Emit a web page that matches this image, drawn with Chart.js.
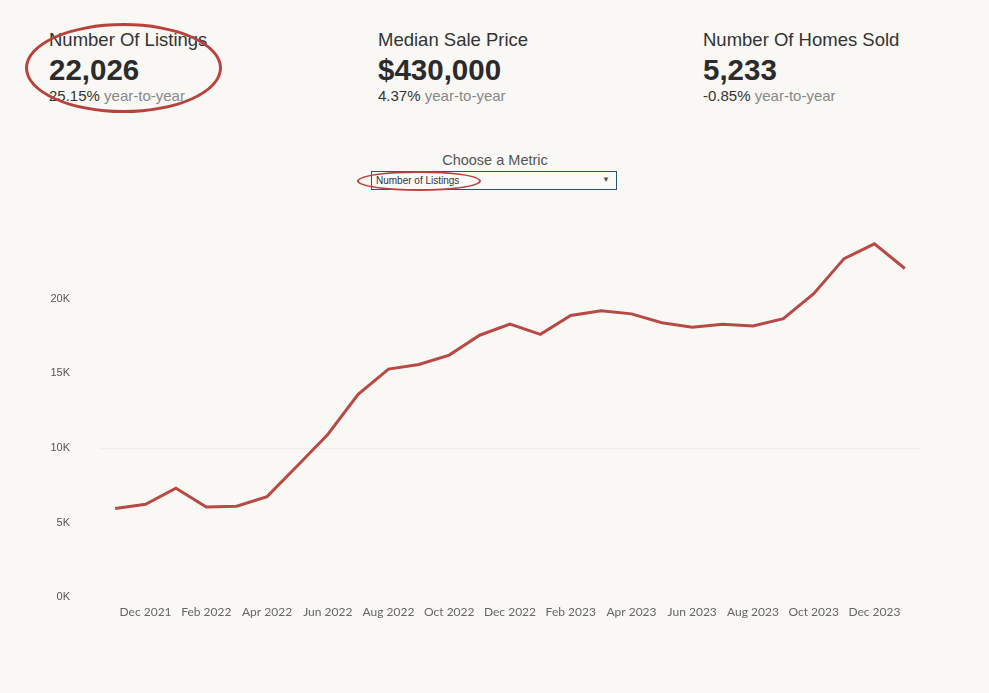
<!DOCTYPE html>
<html>
<head>
<meta charset="utf-8">
<script src="https://cdn.jsdelivr.net/npm/chart.js@4"></script>
<style>
    body { margin: 0; background: #f9f8f5; font-family: "Liberation Sans", Arial, sans-serif; }
    #page { position: relative; width: 989px; height: 693px; overflow: hidden; }
    .kpi { position: absolute; top: 29px; color: #333; }
    .kpi .title { font-size: 18.5px; line-height: 22px; }
    .kpi .value { font-size: 29.5px; font-weight: bold; line-height: 32px; margin-top: 3px; color: #2b2b2b; }
    .kpi .yoy { font-size: 15px; line-height: 18px; margin-top: 1px; }
    .kpi .yoy span { color: #888; }
    #metricLabel { position: absolute; left: 371px; width: 248px; top: 152px; text-align: center; font-size: 14.5px; color: #555; }
    #dropdown { position: absolute; left: 371px; top: 171px; width: 244px; height: 17px; border: 1.5px solid #2a5478; background: #fbfaf8; font-size: 10px; color: #333; }
    #dropdown .txt { position: absolute; left: 4px; top: 3px; }
    #dropdown .arrow { position: absolute; right: 6px; top: 3px; font-size: 8px; color: #555; }
    .ring { position: absolute; border: 3px solid #b8433d; border-radius: 50%; box-sizing: border-box; }
    #chartBox { position: absolute; left: 0; top: 195px; width: 920px; height: 439px; }
</style>
</head>
<body>
<div id="page">
    <div class="kpi" style="left:49px">
        <div class="title">Number Of Listings</div>
        <div class="value">22,026</div>
        <div class="yoy">25.15% <span>year-to-year</span></div>
    </div>
    <div class="kpi" style="left:378px">
        <div class="title">Median Sale Price</div>
        <div class="value">$430,000</div>
        <div class="yoy">4.37% <span>year-to-year</span></div>
    </div>
    <div class="kpi" style="left:703px">
        <div class="title">Number Of Homes Sold</div>
        <div class="value">5,233</div>
        <div class="yoy">-0.85% <span>year-to-year</span></div>
    </div>

    <div id="metricLabel">Choose a Metric</div>
    <div id="dropdown"><span class="txt">Number of Listings</span><span class="arrow">▼</span></div>

    <!-- 手書き風の丸印 -->
    <div class="ring" style="left:25px; top:23px; width:197px; height:90px;"></div>
    <div class="ring" style="left:357px; top:171px; width:124px; height:20px; border-width:2.5px;"></div>

    <div id="chartBox"><canvas id="listingsChart"></canvas></div>
</div>

<script>
// 月ごとのラベル（Nov 2021 〜 Jan 2024）
const months = [
    "Nov 2021", "Dec 2021", "Jan 2022", "Feb 2022", "Mar 2022", "Apr 2022", "May 2022",
    "Jun 2022", "Jul 2022", "Aug 2022", "Sep 2022", "Oct 2022", "Nov 2022", "Dec 2022",
    "Jan 2023", "Feb 2023", "Mar 2023", "Apr 2023", "May 2023", "Jun 2023", "Jul 2023",
    "Aug 2023", "Sep 2023", "Oct 2023", "Nov 2023", "Dec 2023", "Jan 2024"
];

// 掲載件数
const listings = [
    5950, 6240, 7320, 6060, 6110, 6750, 8820,
    10910, 13600, 15290, 15600, 16230, 17560, 18300,
    17620, 18880, 19190, 18990, 18400, 18090, 18300,
    18180, 18670, 20340, 22690, 23680, 22026
];

const yTicks = [0, 5000, 10000, 15000, 20000];

const ctx = document.getElementById('listingsChart').getContext('2d');
new Chart(ctx, {
    type: 'line',
    data: {
        labels: months,
        datasets: [{
            label: 'Number of Listings',
            data: listings,
            borderColor: '#b84a46',
            borderWidth: 3,
            pointRadius: 0,
            fill: false,
            tension: 0
        }]
    },
    options: {
        responsive: true,
        maintainAspectRatio: false,
        animation: false,
        layout: { padding: { top: 6, right: 0, left: 0, bottom: 0 } },
        plugins: {
            legend: { display: false },
            tooltip: { enabled: false }
        },
        scales: {
            x: {
                offset: true,
                border: { display: false },
                grid: { display: false },
                afterFit: function(scale) { scale.height = 30; },
                ticks: {
                    autoSkip: false,
                    maxRotation: 0,
                    padding: 0,
                    color: '#666',
                    font: { family: 'Lato', size: 12 },
                    callback: function(value, index) {
                        return index % 2 === 1 ? months[index] : '';
                    }
                }
            },
            y: {
                min: 0,
                max: 24500,
                border: { display: false },
                afterFit: function(scale) { scale.width = 100; },
                afterBuildTicks: function(scale) {
                    scale.ticks = yTicks.map(v => ({ value: v }));
                },
                grid: {
                    drawTicks: false,
                    color: function(c) {
                        return c.tick && c.tick.value === 10000 ? 'rgba(0,0,0,0.04)' : 'rgba(0,0,0,0)';
                    }
                },
                ticks: {
                    padding: 30,
                    color: '#555',
                    font: { family: 'Liberation Sans', size: 11 },
                    callback: function(value) {
                        return (value / 1000) + 'K';
                    }
                }
            }
        }
    }
});
</script>
</body>
</html>
